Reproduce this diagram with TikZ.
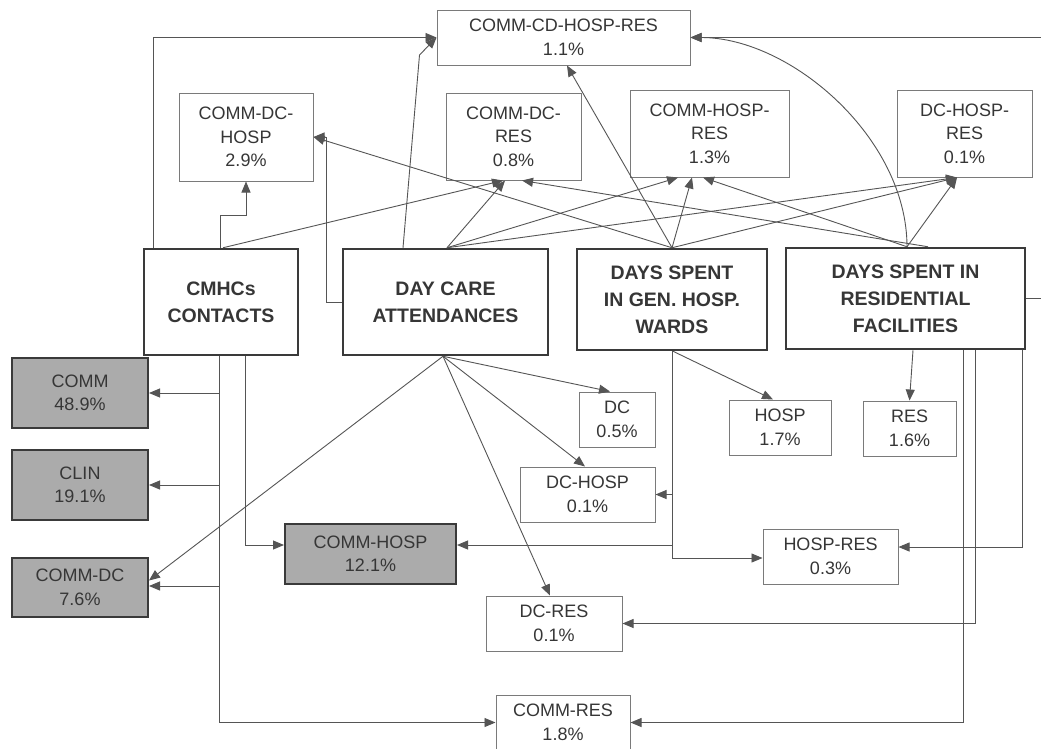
\documentclass[tikz,border=0pt]{standalone}
\usepackage{fontspec}
\setmainfont{Liberation Sans}
\usetikzlibrary{arrows.meta}
\definecolor{txt}{HTML}{363636}
\definecolor{boxgray}{HTML}{7A7A7A}
\definecolor{dark}{HTML}{3A3A3A}
\definecolor{fillgray}{HTML}{ABABAB}
\definecolor{linec}{HTML}{555555}
\tikzset{
 tbox/.style={draw=boxgray, line width=1pt, text=txt, font=\fontsize{18}{23.5}\selectfont, align=center, inner sep=0pt},
 mbox/.style={draw=dark, line width=2.5pt, text=txt, font=\bfseries\fontsize{19.5}{27}\selectfont, align=center, inner sep=0pt},
 gbox/.style={tbox, fill=fillgray, draw=dark, line width=2pt},
 conn/.style={draw=linec, line width=0.9pt, -{Triangle[length=11pt,width=9pt]}},
 plain/.style={draw=linec, line width=0.9pt},
}
\begin{document}
\begin{tikzpicture}[x=1pt,y=-1pt]
\useasboundingbox (0,0) rectangle (1041,748);
\clip (0,0) rectangle (1041,748);
\fill[white] (0,0) rectangle (1041,748);

% top row
\node[tbox, minimum width=253pt, minimum height=55pt] (cdhr) at (563.5,37.5) {COMM-CD-HOSP-RES\\1.1\%};
\node[tbox, minimum width=134pt, minimum height=88pt] (cdh) at (246,137) {COMM-DC-\\HOSP\\2.9\%};
\node[tbox, minimum width=135pt, minimum height=87pt] (cdr) at (513.5,136.5) {COMM-DC-\\RES\\0.8\%};
\node[tbox, minimum width=159pt, minimum height=87pt] (chr) at (709.5,133.5) {COMM-HOSP-\\RES\\1.3\%};
\node[tbox, minimum width=135pt, minimum height=87pt] (dhr) at (964.5,133.5) {DC-HOSP-\\RES\\0.1\%};

% main boxes
\node[mbox, minimum width=154pt, minimum height=106pt] (cmhc) at (221,302) {CMHCs\\CONTACTS};
\node[mbox, minimum width=205pt, minimum height=106pt] (dca) at (445.5,302) {DAY CARE\\ATTENDANCES};
\node[mbox, minimum width=190pt, minimum height=101pt] (gen) at (672,299.5) {DAYS SPENT\\IN GEN. HOSP.\\WARDS};
\node[mbox, minimum width=239pt, minimum height=101pt] (resf) at (905.5,298.5) {DAYS SPENT IN\\RESIDENTIAL\\FACILITIES};

% grey boxes
\node[gbox, minimum width=136pt, minimum height=70pt] (comm) at (80,393) {COMM\\48.9\%};
\node[gbox, minimum width=136pt, minimum height=70pt] (clin) at (80,485) {CLIN\\19.1\%};
\node[gbox, minimum width=136pt, minimum height=59pt] (commdc) at (80,587.5) {COMM-DC\\7.6\%};
\node[gbox, minimum width=171pt, minimum height=60pt] (commhosp) at (370.5,554) {COMM-HOSP\\12.1\%};

% lower boxes
\node[tbox, minimum width=76pt, minimum height=55pt] (dc) at (617,419.5) {DC\\0.5\%};
\node[tbox, minimum width=135pt, minimum height=55pt] (dch) at (587.5,494.5) {DC-HOSP\\0.1\%};
\node[tbox, minimum width=102pt, minimum height=55pt] (hosp) at (780,427.5) {HOSP\\1.7\%};
\node[tbox, minimum width=93pt, minimum height=55pt] (res) at (909.5,428.5) {RES\\1.6\%};
\node[tbox, minimum width=135pt, minimum height=55pt] (hr) at (830.5,556.5) {HOSP-RES\\0.3\%};
\node[tbox, minimum width=136pt, minimum height=55pt] (dcr) at (554,623.5) {DC-RES\\0.1\%};
\node[tbox, minimum width=134pt, minimum height=55pt] (cr) at (563,722.5) {COMM-RES\\1.8\%};

% CMHCs top
\draw[conn] ([xshift=11pt]cmhc.north west) |- (cdhr.west);
\draw[conn] ([xshift=-1pt]cmhc.north) |- ([yshift=-34pt]cdh.south) -- (cdh.south);
\draw[conn] ([xshift=2pt]cmhc.north) -- ([xshift=-10.5pt]cdr.south);

% Day care top / left
\draw[conn] ([xshift=-42.5pt]dca.north) -- ([xshift=-17pt,yshift=-17.5pt]cdhr.west) -- (cdhr.west);
\draw[conn] (dca.west) -- ++(-15,0) |- (cdh.east);
\draw[conn] ([xshift=1.5pt]dca.north) -- ([xshift=-8.5pt]cdr.south);
\draw[conn] ([xshift=1.5pt]dca.north) -- ([xshift=-31.5pt]chr.south);
\draw[conn] ([xshift=1.5pt]dca.north) -- ([xshift=-7.5pt]dhr.south);

% Gen hosp top
\draw[conn] (gen.north) -- (cdh.east);
\draw[conn] (gen.north) -- ([xshift=3.5pt]cdhr.south);
\draw[conn] (gen.north) -- ([xshift=-17.5pt]chr.south);
\draw[conn] (gen.north) -- ([xshift=-7.5pt]dhr.south);

% Residential top
\draw[conn] ([xshift=1.5pt]resf.north) -- ([xshift=-6.5pt]chr.south);
\draw[conn] ([xshift=1.5pt]resf.north) -- ([xshift=-7.5pt]dhr.south);
\draw[conn] ([xshift=22.5pt]resf.north) -- ([xshift=8.5pt]cdr.south);
\draw[conn] ([xshift=1.5pt]resf.north) .. controls +(0,-109) and +(100,0) .. (cdhr.east);
\draw[conn] (resf.east) -- ++(40,0) |- (cdhr.east);

% CMHCs bottom
\draw[conn] ([xshift=-2pt]cmhc.south) |- (comm.east);
\draw[conn] ([xshift=-2pt]cmhc.south) |- (clin.east);
\draw[conn] ([xshift=-2pt]cmhc.south) |- ([yshift=1.5pt]commdc.east);
\draw[conn] ([xshift=-2pt]cmhc.south) |- (cr.west);
\draw[conn] ([xshift=24pt]cmhc.south) |- ([yshift=9pt]commhosp.west);

% Day care bottom
\draw[conn] ([xshift=-2.5pt]dca.south) -- ([xshift=-7pt]dc.north);
\draw[conn] ([xshift=-2.5pt]dca.south) -- ([xshift=-2.5pt]dch.north);
\draw[conn] ([xshift=-2.5pt]dca.south) -- ([xshift=-4pt]dcr.north);
\draw[conn] ([xshift=-2.5pt]dca.south) -- ([yshift=7pt]commdc.east);

% Gen hosp bottom
\draw[conn] (gen.south) |- ([yshift=9pt]commhosp.east);
\draw[conn] (gen.south) |- (dch.east);
\draw[conn] (gen.south) |- ([yshift=-1.5pt]hr.west);
\draw[conn] ([xshift=1pt]gen.south) -- ([xshift=-7pt]hosp.north);

% Residential bottom
\draw[conn] ([xshift=7.5pt]resf.south) -- (res.north);
\draw[conn] ([xshift=57.5pt]resf.south) |- (cr.east);
\draw[conn] ([xshift=69.5pt]resf.south) |- (dcr.east);
\draw[conn] ([xshift=116.5pt]resf.south) |- ([yshift=9.5pt]hr.east);
\end{tikzpicture}
\end{document}
